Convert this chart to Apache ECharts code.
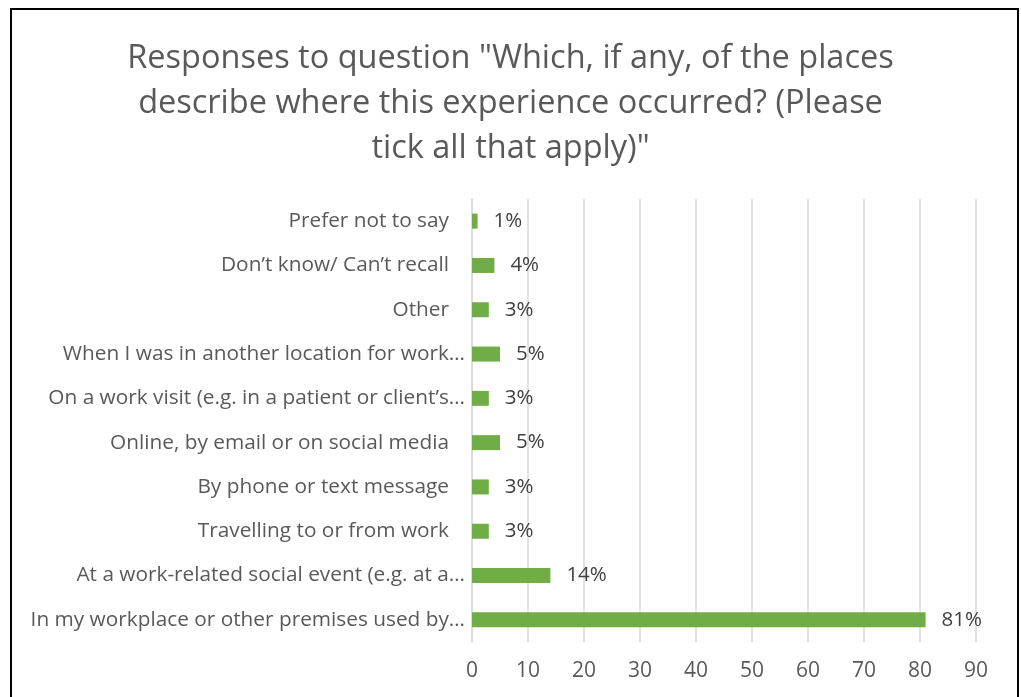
<!DOCTYPE html>
<html><head><meta charset="utf-8">
<script src="https://cdn.jsdelivr.net/npm/echarts@6/dist/echarts.min.js"></script>
<style>html,body{margin:0;padding:0;background:#fff}#c{width:1021px;height:697px}</style>
</head><body><div id="c"></div>
<script>
// categories from bottom to top (as ECharts draws a category y axis)
const categories = [
  "In my workplace or other premises used by…",
  "At a work-related social event (e.g. at a…",
  "Travelling to or from work",
  "By phone or text message",
  "Online, by email or on social media",
  "On a work visit (e.g. in a patient or client’s…",
  "When I was in another location for work…",
  "Other",
  "Don’t know/ Can’t recall",
  "Prefer not to say"
];
const values = [81, 14, 3, 3, 5, 3, 5, 3, 4, 1];
const xTicks = [0, 10, 20, 30, 40, 50, 60, 70, 80, 90];
const titleText = 'Responses to question "Which, if any, of the places\ndescribe where this experience occurred? (Please\ntick all that apply)"';

const FONT = 'Open Sans';
const CAT_SIZE = 20.8;
const chart = echarts.init(document.getElementById('c'));
chart.setOption({
  animation: false,
  backgroundColor: '#fff',
  graphic: [{
    type: 'rect', silent: true,
    shape: { x: 11, y: 9, width: 1007, height: 700 },
    style: { fill: 'none', stroke: '#000', lineWidth: 2 }
  }],
  title: {
    text: titleText, left: 'center', top: 31,
    textStyle: { fontFamily: FONT, fontSize: 32.5, fontWeight: 'normal', color: '#595959', lineHeight: 45, align: 'center' }
  },
  grid: { left: 472, right: 45, top: 199, bottom: 55, containLabel: false },
  xAxis: {
    type: 'value', min: xTicks[0], max: xTicks[xTicks.length - 1], interval: 10,
    axisLine: { show: false }, axisTick: { show: false },
    splitLine: { lineStyle: { color: '#d9d9d9', width: 1.5 } },
    axisLabel: { fontFamily: FONT, fontSize: 21, color: '#595959', margin: 19 }
  },
  yAxis: {
    type: 'category', data: categories,
    axisLine: { show: true, lineStyle: { color: '#d9d9d9', width: 1.5 } },
    axisTick: { show: false },
    axisLabel: {
      margin: 7,
      formatter: function (v) { return v.slice(-1) === '…' ? '{e|' + v + '}' : '{p|' + v + '}'; },
      rich: {
        e: { fontFamily: FONT, fontSize: CAT_SIZE, color: '#595959' },
        p: { fontFamily: FONT, fontSize: CAT_SIZE, color: '#595959', padding: [0, 16, 0, 0] }
      }
    }
  },
  series: [{
    type: 'bar', data: values, barWidth: 15,
    itemStyle: { color: '#70ad47' },
    label: { show: true, position: 'right', distance: 16, formatter: '{c}%', fontFamily: FONT, fontSize: 20.5, color: '#404040' }
  }]
});
</script></body></html>
